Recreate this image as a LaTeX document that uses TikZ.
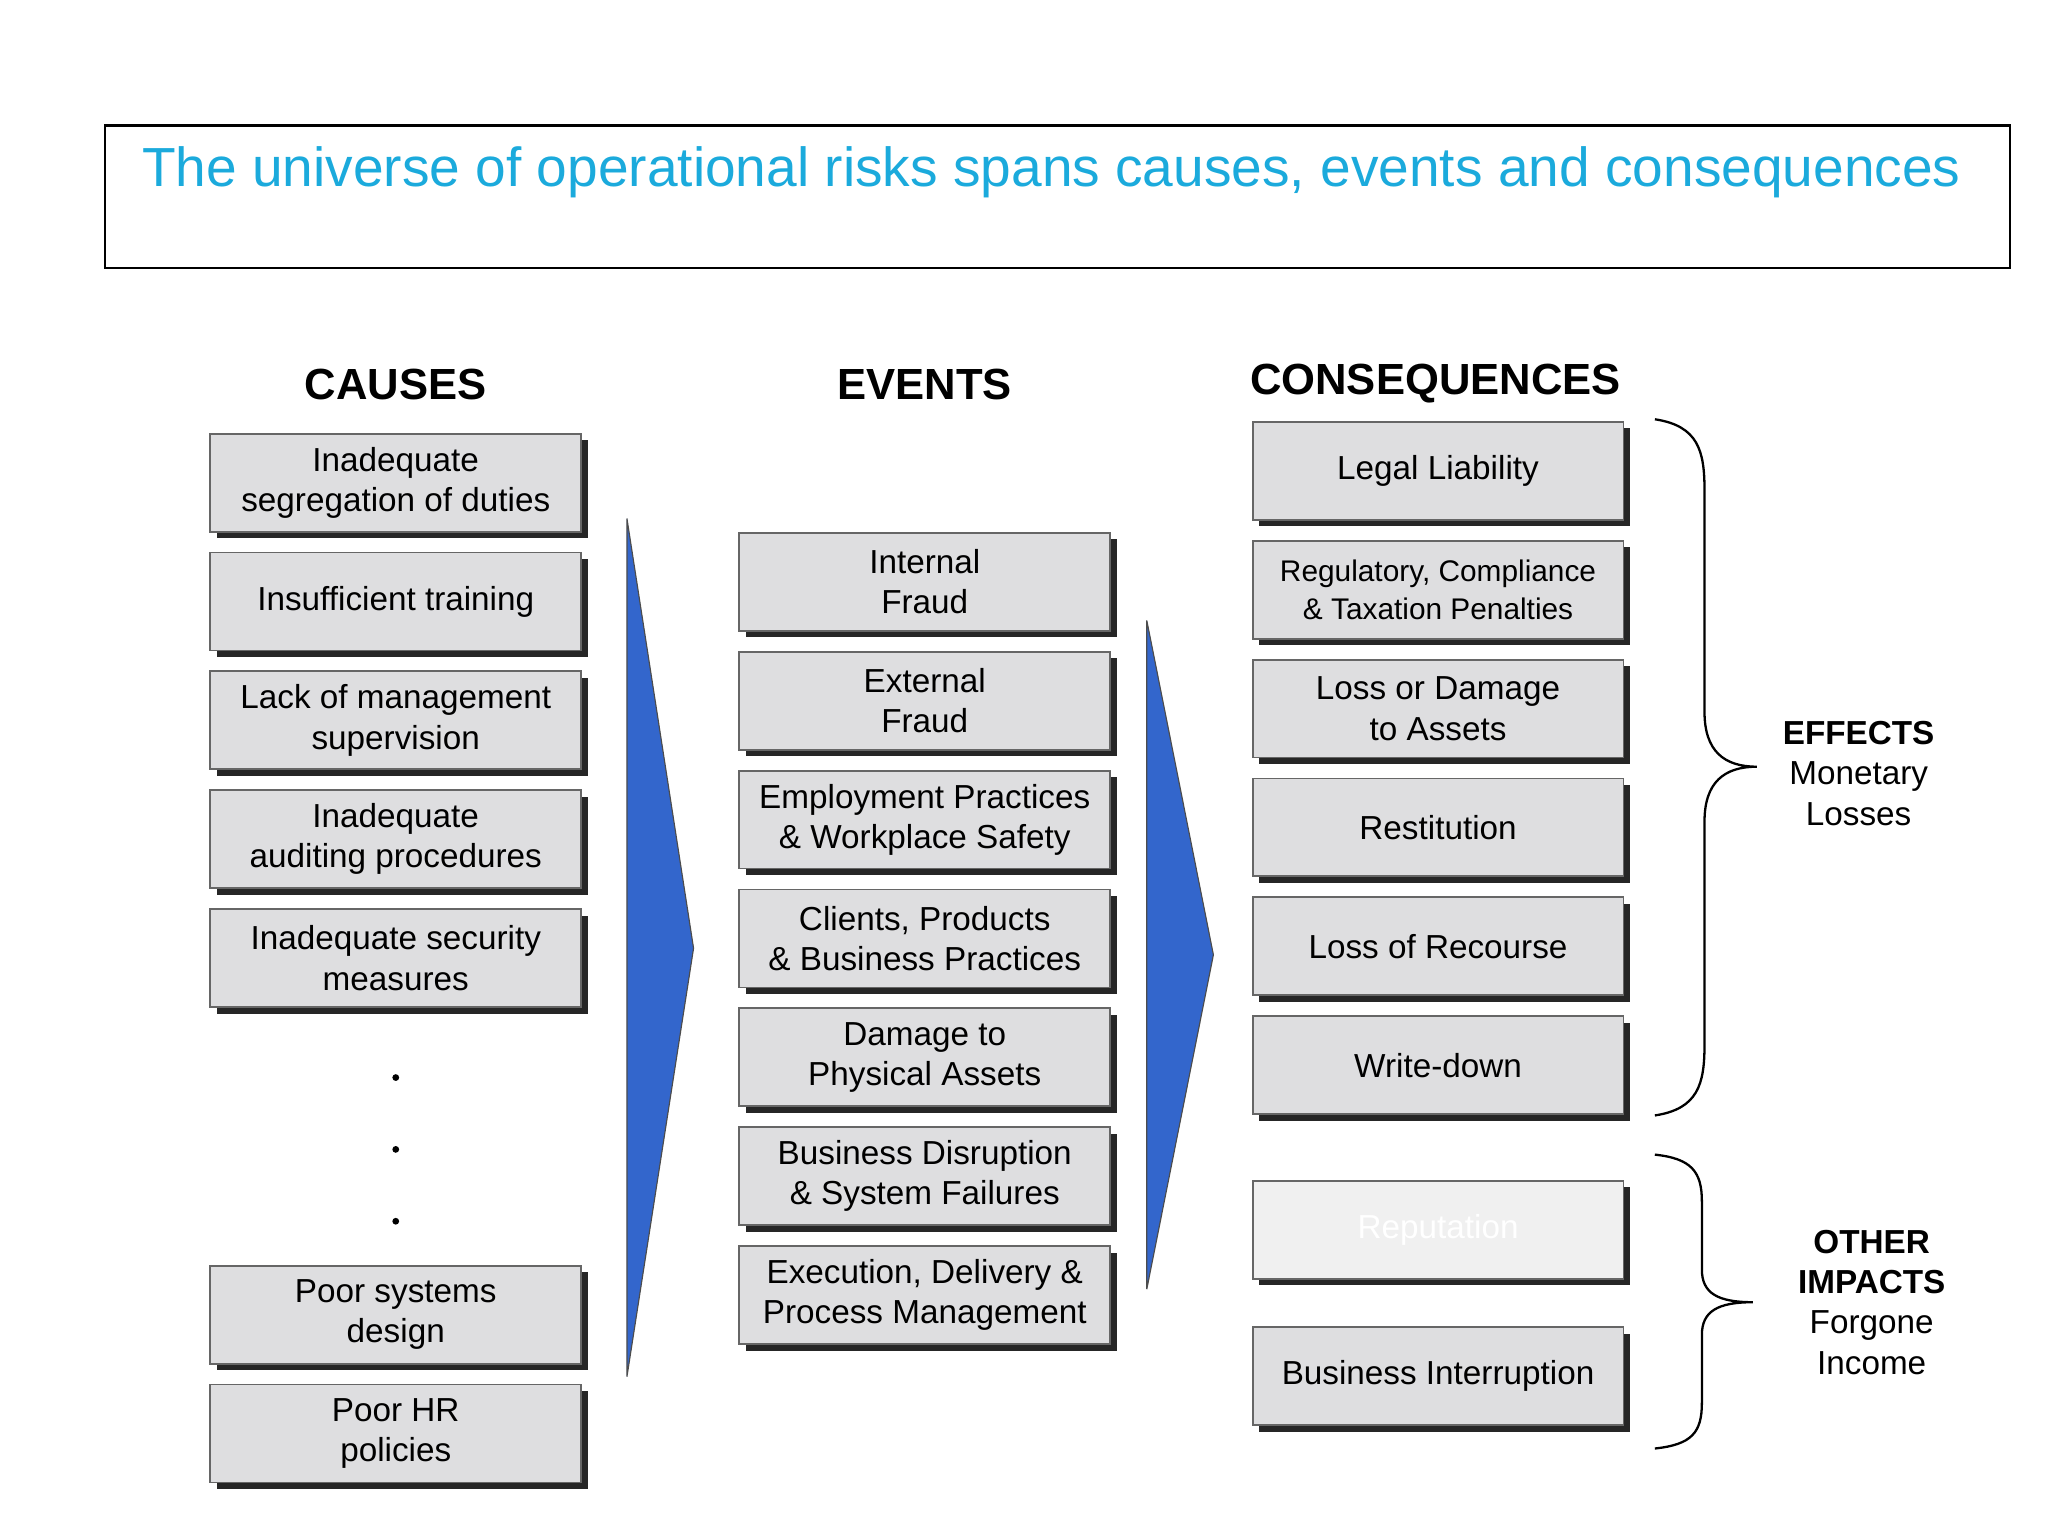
\documentclass[tikz,border=0pt]{standalone}
\usepackage{fontspec}
\setmainfont{Liberation Sans}
\usetikzlibrary{shadows}
\definecolor{boxg}{RGB}{222,222,224}
\definecolor{ttl}{RGB}{27,170,220}
\definecolor{arr}{RGB}{51,102,204}
\begin{document}
\begin{tikzpicture}[x=0.02cm,y=-0.02cm,
 box/.style={draw=black!60,line width=0.8pt,fill=boxg,minimum width=5.68cm,minimum height=1.5cm,align=center,inner sep=1pt,
   font=\fontsize{14.5}{17.6}\selectfont,
   drop shadow={shadow xshift=0.1cm,shadow yshift=-0.1cm,fill=black!85,opacity=1}},
 hdr/.style={font=\fontsize{19}{22}\selectfont\bfseries},
 side/.style={align=center,font=\fontsize{14.5}{17.6}\selectfont},
 tri/.style={fill=arr,draw=black!70,line width=0.5pt},
 brace/.style={line width=1pt}]
\useasboundingbox (0,0) rectangle (1568,1176);
\fill[white] (0,0) rectangle (1568,1176);
\node[draw,line width=1pt,minimum width=29.18cm,minimum height=2.18cm] (tb) at (809.5,150.5) {};
\node[text=ttl,font=\fontsize{24}{28}\selectfont] (title) at (805,132) {The universe of operational risks spans causes, events and consequences};
\node[hdr] (hc) at (303,294) {CAUSES};
\node[hdr] (he) at (708,294) {EVENTS};
\node[hdr] (hq) at (1099,294) {CONSEQUENCES};
% causes
\node[box] (c1) at (303,369.5) {Inadequate\\segregation of duties};
\node[box] (c2) at (303,460.5) {Insufficient training};
\node[box] (c3) at (303,551.5) {Lack of management\\supervision};
\node[box] (c4) at (303,642.5) {Inadequate\\auditing procedures};
\node[box] (c5) at (303,733.5) {Inadequate security\\measures};
\node[box] (c6) at (303,1006.5) {Poor systems\\design};
\node[box] (c7) at (303,1097.5) {Poor HR\\policies};
\foreach \y/\n in {825/d1,880/d2,935/d3} \fill (303,\y) circle (2.6);
% events
\node[box] (e1) at (708,445.5) {Internal\\Fraud};
\node[box] (e2) at (708,536.5) {External\\Fraud};
\node[box] (e3) at (708,627.5) {Employment Practices\\\& Workplace Safety};
\node[box] (e4) at (708,718.5) {Clients, Products\\\& Business Practices};
\node[box] (e5) at (708,809.5) {Damage to\\Physical Assets};
\node[box] (e6) at (708,900.5) {Business Disruption\\\& System Failures};
\node[box] (e7) at (708,991.5) {Execution, Delivery \&\\Process Management};
% consequences
\node[box] (q1) at (1101,360.5) {Legal Liability};
\node[box,font=\fontsize{13}{16.5}\selectfont] (q2) at (1101,451.5) {Regulatory, Compliance\\\& Taxation Penalties};
\node[box] (q3) at (1101,542.5) {Loss or Damage\\to Assets};
\node[box] (q4) at (1101,633.5) {Restitution};
\node[box] (q5) at (1101,724.5) {Loss of Recourse};
\node[box] (q6) at (1101,815.5) {Write-down};
\node[box,fill=black!6,text=white] (q7) at (1101,941.5) {Reputation};
\node[box] (q8) at (1101,1053.5) {Business Interruption};
% arrows
\draw[tri] (480,397) -- (531,726) -- (480,1054) -- cycle;
\draw[tri] (878,475) -- (929,731) -- (878,987) -- cycle;
% braces
\draw[brace] (1267,321) .. controls (1300,326) and (1305,345) .. (1305,375) -- (1305,545)
  .. controls (1305,575) and (1320,587) .. (1345,587)
  .. controls (1320,587) and (1305,599) .. (1305,629) -- (1305,800)
  .. controls (1305,830) and (1300,849) .. (1267,854);
\draw[brace] (1267,884) .. controls (1295,887) and (1303,897) .. (1303,920) -- (1303,972)
  .. controls (1303,990) and (1315,997) .. (1342,997)
  .. controls (1315,997) and (1303,1004) .. (1303,1022) -- (1303,1074)
  .. controls (1303,1097) and (1295,1106) .. (1267,1109);
\node[side] (ef) at (1423,592) {\textbf{EFFECTS}\\Monetary\\Losses};
\node[side] (oi) at (1433,997) {\textbf{OTHER}\\\textbf{IMPACTS}\\Forgone\\Income};
\end{tikzpicture}
\end{document}
